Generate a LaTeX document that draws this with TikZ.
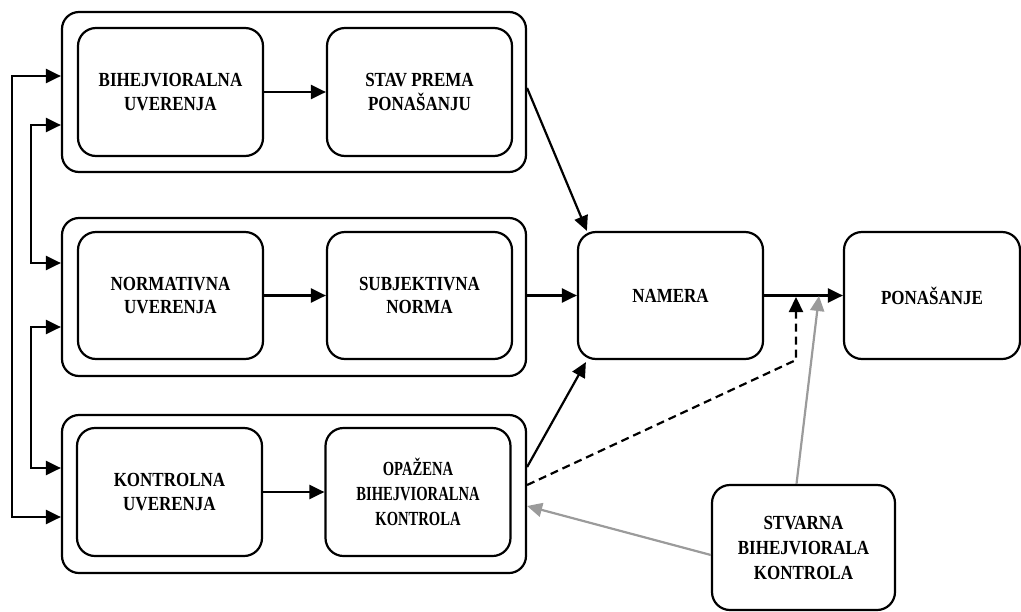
\documentclass[tikz,border=0pt]{standalone}
\usepackage{fontspec}
\setmainfont{Liberation Serif}[FakeStretch=0.85]
\newfontfamily\condfont{Liberation Serif}[FakeStretch=0.73]
\usetikzlibrary{arrows.meta,calc}
\definecolor{grayline}{RGB}{155,155,155}
\begin{document}
\begin{tikzpicture}[x=1pt,y=-1pt,
  outerbox/.style={draw,line width=2.2pt,rounded corners=17pt,minimum width=464pt,minimum height=158pt,inner sep=0pt},
  innerbox/.style={draw,line width=2.2pt,rounded corners=18pt,minimum width=185pt,minimum height=127pt,inner sep=0pt,align=center,
    font=\fontsize{20}{23.5}\selectfont\bfseries},
  arr/.style={line width=2.2pt,-{Triangle[length=15pt,width=14pt]}},
  barr/.style={line width=2.2pt,{Triangle[length=15pt,width=14pt]}-{Triangle[length=15pt,width=14pt]}},
  garr/.style={line width=2.2pt,draw=grayline,-{Triangle[length=15pt,width=14pt]},grayline},
  dsh/.style={dash pattern=on 8pt off 5pt}
]
\useasboundingbox (0,0) rectangle (1021,611);

% outer group boxes
\node[outerbox,minimum height=160pt] (O1) at (294,92) {};
\node[outerbox] (O2) at (294,297) {};
\node[outerbox] (O3) at (294,494) {};

% inner boxes
\node[innerbox,minimum height=128pt] (BU) at (170.5,92) {BIHEJVIORALNA\\UVERENJA};
\node[innerbox,minimum height=128pt] (SP) at (419.5,92) {STAV PREMA\\PONAŠANJU};
\node[innerbox] (NU) at (170.5,295.5) {NORMATIVNA\\UVERENJA};
\node[innerbox] (SN) at (419.5,295.5) {SUBJEKTIVNA\\NORMA};
\node[innerbox,minimum height=128pt] (KU) at (169.5,492) {KONTROLNA\\UVERENJA};
\node[innerbox,minimum height=128pt,font=\fontsize{20}{25}\selectfont\condfont\bfseries] (OB) at (418,492) {OPAŽENA\\BIHEJVIORALNA\\KONTROLA};
\node[innerbox] (NAM) at (670.5,295.5) {NAMERA};
\node[innerbox,minimum width=176pt] (PON) at (932,295.5) {PONAŠANJE};
\node[innerbox,minimum width=183pt,minimum height=125pt,font=\fontsize{20}{25}\selectfont\bfseries] (STV) at (803.5,547.5) {STVARNA\\BIHEJVIORALA\\KONTROLA};

% bus lines on the left
\draw[barr] (O1.west|-0,76) -| (12,300) |- (O3.west|-0,517);
\draw[barr] (O1.west|-0,125) -| (31,200) |- (O2.west|-0,263);
\draw[barr] (O2.west|-0,327) -| (31,400) |- (O3.west|-0,468);

% inner arrows
\draw[arr] (BU.east) -- (SP.west);
\draw[arr] (NU.east) -- (SN.west);
\draw[arr] (KU.east) -- (OB.west);

% to NAMERA
\draw[arr] (O1.east|-0,88) -- ($(NAM.north west)+(10,0)$);
\draw[arr] (O2.east|-0,295.5) -- (NAM.west);
\draw[arr] (O3.east|-0,467) -- ($(NAM.south west)+(9,2)$);
\draw[arr] (NAM.east) -- (PON.west);

% dashed feedback
\coordinate (dk) at (796,360);
\draw[arr,dsh] (O3.east|-0,485) -- (dk) -- (dk|-0,297);

% gray arrows from STVARNA
\draw[garr] ($(STV.north)+(-7,0)$) -- (819,296);
\draw[garr] (STV.west|-0,555) -- (O3.east|-0,506);
\end{tikzpicture}
\end{document}
